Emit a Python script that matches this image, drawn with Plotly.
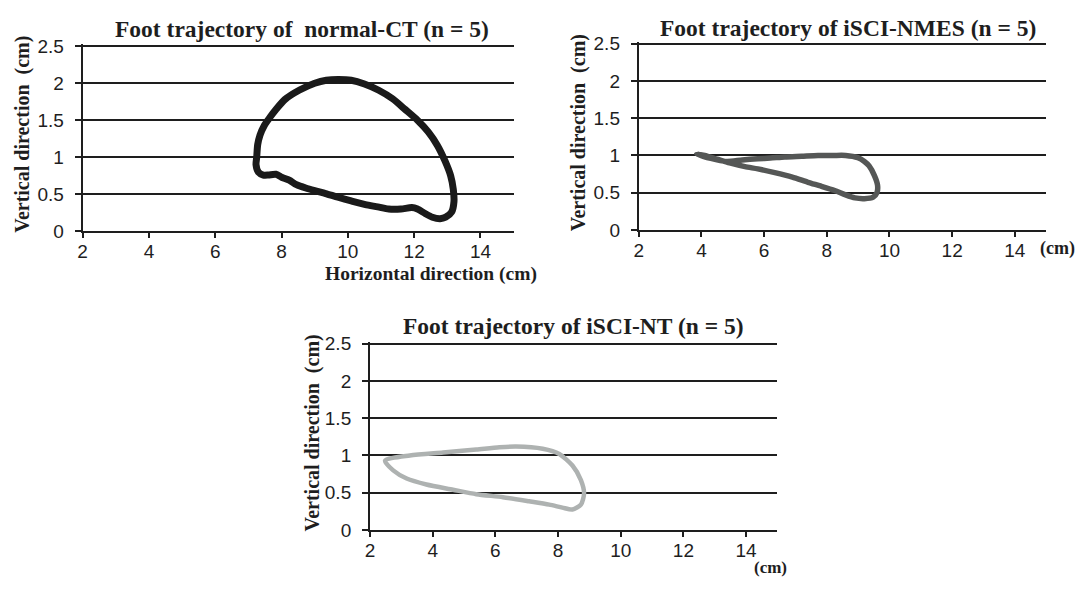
import plotly.graph_objects as go

# ---------------- data (cm) ----------------
ct_x = [7.25, 7.28, 7.35, 7.48, 7.65, 7.83, 8.1, 8.53, 9.0, 9.35, 9.7, 10.1, 10.5, 10.93,
        11.35, 11.73, 12.1, 12.43, 12.7, 12.93, 13.1, 13.18, 13.2, 13.13, 12.95, 12.78,
        12.55, 12.33, 12.1, 11.93, 11.6, 11.23, 10.9, 10.53, 10.1, 9.7, 9.33, 9.0, 8.73,
        8.45, 8.23, 8.0, 7.83, 7.6, 7.45, 7.3, 7.23, 7.25]
ct_y = [1.0, 1.17, 1.3, 1.43, 1.54, 1.645, 1.78, 1.905, 2.0, 2.04, 2.05, 2.04, 1.99, 1.905,
        1.79, 1.645, 1.5, 1.34, 1.16, 0.95, 0.75, 0.565, 0.4, 0.26, 0.19, 0.17,
        0.19, 0.24, 0.3, 0.32, 0.3, 0.3, 0.33, 0.36, 0.41, 0.46, 0.51, 0.55, 0.585,
        0.63, 0.69, 0.73, 0.77, 0.76, 0.76, 0.8, 0.9, 1.0]

nmes_x = [3.85, 4.3, 4.8, 5.3, 5.8, 6.2, 6.66, 7.2, 7.72, 8.2, 8.6, 8.99, 9.2, 9.35, 9.52,
          9.62, 9.6, 9.48, 9.2, 8.9, 8.6, 8.25, 7.8, 7.4, 6.9, 6.34, 5.8, 5.39, 4.9, 4.5,
          4.1, 3.85]
nmes_y = [1.02, 0.96, 0.92, 0.94, 0.955, 0.965, 0.98, 0.99, 1.0, 1.0, 1.0, 0.97, 0.92, 0.86,
          0.73, 0.6, 0.5, 0.44, 0.42, 0.43, 0.47, 0.53, 0.59, 0.64, 0.71, 0.77, 0.82, 0.85,
          0.9, 0.95, 1.0, 1.02]

nt_x = [2.48, 3.27, 4.33, 5.39, 6.13, 6.66, 7.51, 8.04, 8.46, 8.73, 8.83, 8.73, 8.46, 8.14,
        7.72, 7.08, 6.24, 5.39, 4.65, 3.8, 3.17, 2.74, 2.48]
nt_y = [0.93, 1.0, 1.04, 1.08, 1.11, 1.12, 1.09, 1.02, 0.865, 0.67, 0.49, 0.34, 0.275, 0.30,
        0.34, 0.385, 0.44, 0.48, 0.54, 0.61, 0.69, 0.80, 0.93]

x_ticks = [2, 4, 6, 8, 10, 12, 14]
x_tick_text = ["2", "4", "6", "8", "10", "12", "14"]
y_ticks = [0, 0.5, 1, 1.5, 2, 2.5]
y_tick_text = ["0", "0.5", "1", "1.5", "2", "2.5"]

titles = ["Foot trajectory of  normal-CT (n = 5)",
          "Foot trajectory of iSCI-NMES (n = 5)",
          "Foot trajectory of iSCI-NT (n = 5)"]

W, H = 1082, 590
Y_TOP = 2.53          # a little headroom so the 2.5 gridline is drawn
def px(x0, x1):
    return [x0 / W, x1 / W]
def py(top25, bottom0):
    # top25: pixel row of y=2.5, bottom0: pixel row of y=0
    top = bottom0 - (bottom0 - top25) * Y_TOP / 2.5
    return [1 - bottom0 / H, 1 - top / H]

INK = "#1e1e1e"
tick_font = dict(family="Liberation Sans, Arial, sans-serif", size=19, color=INK)
serif_b = "Liberation Serif, Times New Roman, serif"

fig = go.Figure()
series = [(ct_x, ct_y, "#1a1a1a", 7, "x", "y"),
          (nmes_x, nmes_y, "#555756", 5.5, "x2", "y2"),
          (nt_x, nt_y, "#aeb2b1", 4.5, "x3", "y3")]
for xs, ys, col, w, xa, ya in series:
    fig.add_trace(go.Scatter(x=xs, y=ys, mode="lines",
                             line=dict(color=col, width=w, shape="spline", smoothing=0.7),
                             xaxis=xa, yaxis=ya, showlegend=False, hoverinfo="skip"))

def xaxis(domain, anchor):
    return dict(domain=domain, anchor=anchor, range=[2, 15], tickmode="array",
                tickvals=x_ticks, ticktext=x_tick_text, ticks="outside", ticklen=5,
                tickwidth=2, tickcolor=INK, showgrid=False, zeroline=False,
                showline=True, linecolor=INK, linewidth=2, tickfont=tick_font,
                ticklabelstandoff=-3, fixedrange=True)

def yaxis(domain, anchor):
    return dict(domain=domain, anchor=anchor, range=[0, Y_TOP], tickmode="array",
                tickvals=y_ticks, ticktext=y_tick_text, ticks="outside", ticklen=6,
                tickwidth=2, tickcolor=INK, showgrid=True, gridcolor=INK, gridwidth=2,
                zeroline=False, showline=True, linecolor=INK, linewidth=2,
                tickfont=tick_font, ticklabelstandoff=7, fixedrange=True)

layout = dict(
    width=W, height=H, margin=dict(l=0, r=0, t=0, b=0),
    paper_bgcolor="white", plot_bgcolor="white",
    xaxis=xaxis(px(78, 511), "y"), yaxis=yaxis(py(39.5, 230.7), "x"),
    xaxis2=xaxis(px(636.7, 1046), "y2"), yaxis2=yaxis(py(37, 229.3), "x2"),
    xaxis3=xaxis(px(366.7, 776), "y3"), yaxis3=yaxis(py(347, 539.3), "x3"),
)
fig.update_layout(**layout)

def ann(text, x, y, size, angle=0, xanchor="center"):
    fig.add_annotation(text=text, x=x / W, y=1 - y / H, xref="paper", yref="paper",
                       showarrow=False, textangle=angle, xanchor=xanchor, yanchor="middle",
                       font=dict(family=serif_b, size=size, color=INK))

# panel titles
ann("<b>" + titles[0] + "</b>", 298, 22, 23.5)
ann("<b>" + titles[1] + "</b>", 847, 21, 23.5)
ann("<b>" + titles[2] + "</b>", 571, 329, 23.5)
# axis titles
ann("<b>Vertical direction  (cm)</b>", 18, 130, 20, -90)
ann("<b>Horizontal direction (cm)</b>", 428, 275, 19.5)
ann("<b>Vertical direction  (cm)</b>", 577, 129, 20, -90)
ann("<b>(cm)</b>", 1057, 248, 18)
ann("<b>Vertical direction  (cm)</b>", 309, 439, 20, -90)
ann("<b>(cm)</b>", 769, 578, 17)

fig.write_html("out.html")
